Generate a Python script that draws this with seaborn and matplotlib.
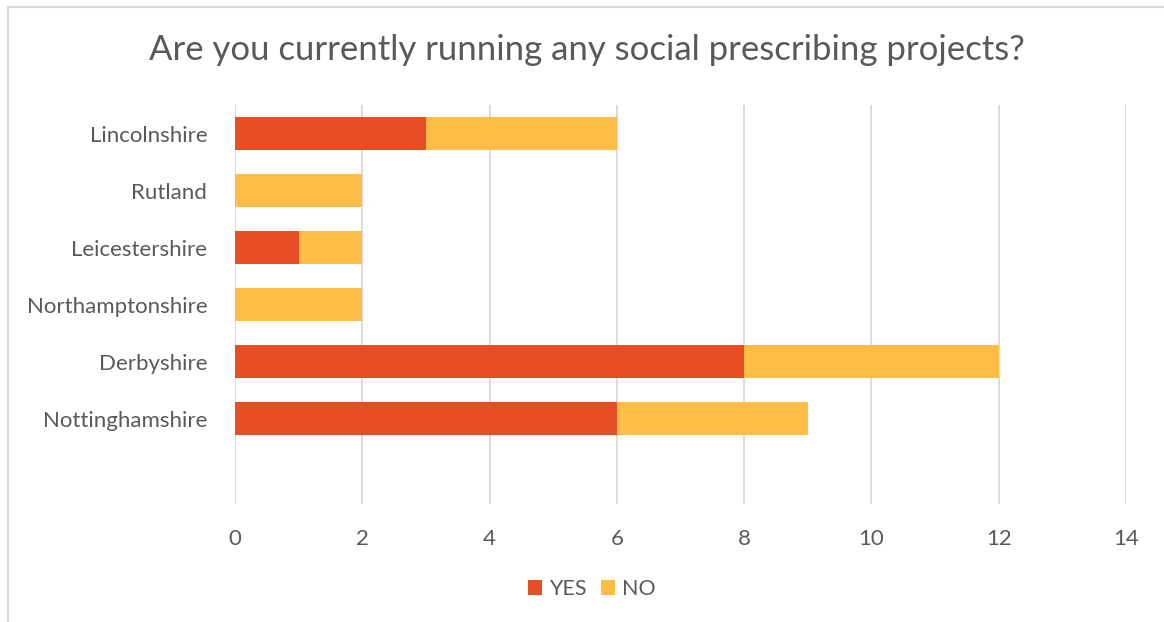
import matplotlib
matplotlib.use("Agg")
import matplotlib.pyplot as plt
import seaborn as sns
import pandas as pd
from matplotlib.lines import Line2D
from matplotlib.patches import Patch

regions = ["Lincolnshire", "Rutland", "Leicestershire", "Northamptonshire", "Derbyshire", "Nottinghamshire"]
yes_vals = [3, 0, 1, 0, 8, 6]
no_vals = [3, 2, 1, 2, 4, 3]
x_ticks = [0, 2, 4, 6, 8, 10, 12, 14]
title = "Are you currently running any social prescribing projects?"

YES_C = "#E84E23"
NO_C = "#FFBC47"
TXT = "#595959"
GRID = "#D9D9D9"

sns.set_theme(style="white")
plt.rcParams["font.family"] = ["Lato", "DejaVu Sans"]

df = pd.DataFrame({"region": regions, "YES": yes_vals, "NO": no_vals})
df["TOTAL"] = df["YES"] + df["NO"]

fig = plt.figure(figsize=(11.64, 6.22), dpi=100)
ax = fig.add_axes([235/1164, 1-504/622, (1126-235)/1164, (504-105)/622])

sns.barplot(data=df, y="region", x="TOTAL", color=NO_C, orient="h", width=0.58,
            ax=ax, saturation=1, edgecolor="none", linewidth=0, zorder=2)
sns.barplot(data=df, y="region", x="YES", color=YES_C, orient="h", width=0.58,
            ax=ax, saturation=1, edgecolor="none", linewidth=0, zorder=3)

ax.set_xlim(0, 14)
ax.set_ylim(6.5, -0.5)
ax.set_xticks(x_ticks)
ax.set_xticklabels([str(t) for t in x_ticks])
ax.xaxis.grid(True, color=GRID, linewidth=1.3, zorder=0)
ax.set_axisbelow(True)
for s in ax.spines.values():
    s.set_visible(False)
ax.set_xlabel("")
ax.set_ylabel("")
ax.tick_params(axis="x", length=0, pad=18, labelsize=16, labelcolor=TXT)
ax.tick_params(axis="y", length=0, pad=20, labelsize=16, labelcolor=TXT)

fig.text(587/1164, 1-50/622, title, ha="center", va="center", fontsize=25, color=TXT)

handles = [Patch(facecolor=YES_C, edgecolor="none", label="YES"),
           Patch(facecolor=NO_C, edgecolor="none", label="NO")]
fig.legend(handles=handles, loc="center", bbox_to_anchor=(592/1164, 1-589/622), ncol=2,
           frameon=False, fontsize=15.5, labelcolor=TXT, handlelength=0.65, handleheight=0.65,
           handletextpad=0.3, columnspacing=0.7)

fig.add_artist(Line2D([8/1164, 1], [1-7/622, 1-7/622], color=GRID, linewidth=1.5, transform=fig.transFigure))
fig.add_artist(Line2D([8/1164, 8/1164], [0, 1-7/622], color=GRID, linewidth=1.5, transform=fig.transFigure))

fig.savefig("out.png", dpi=100)
